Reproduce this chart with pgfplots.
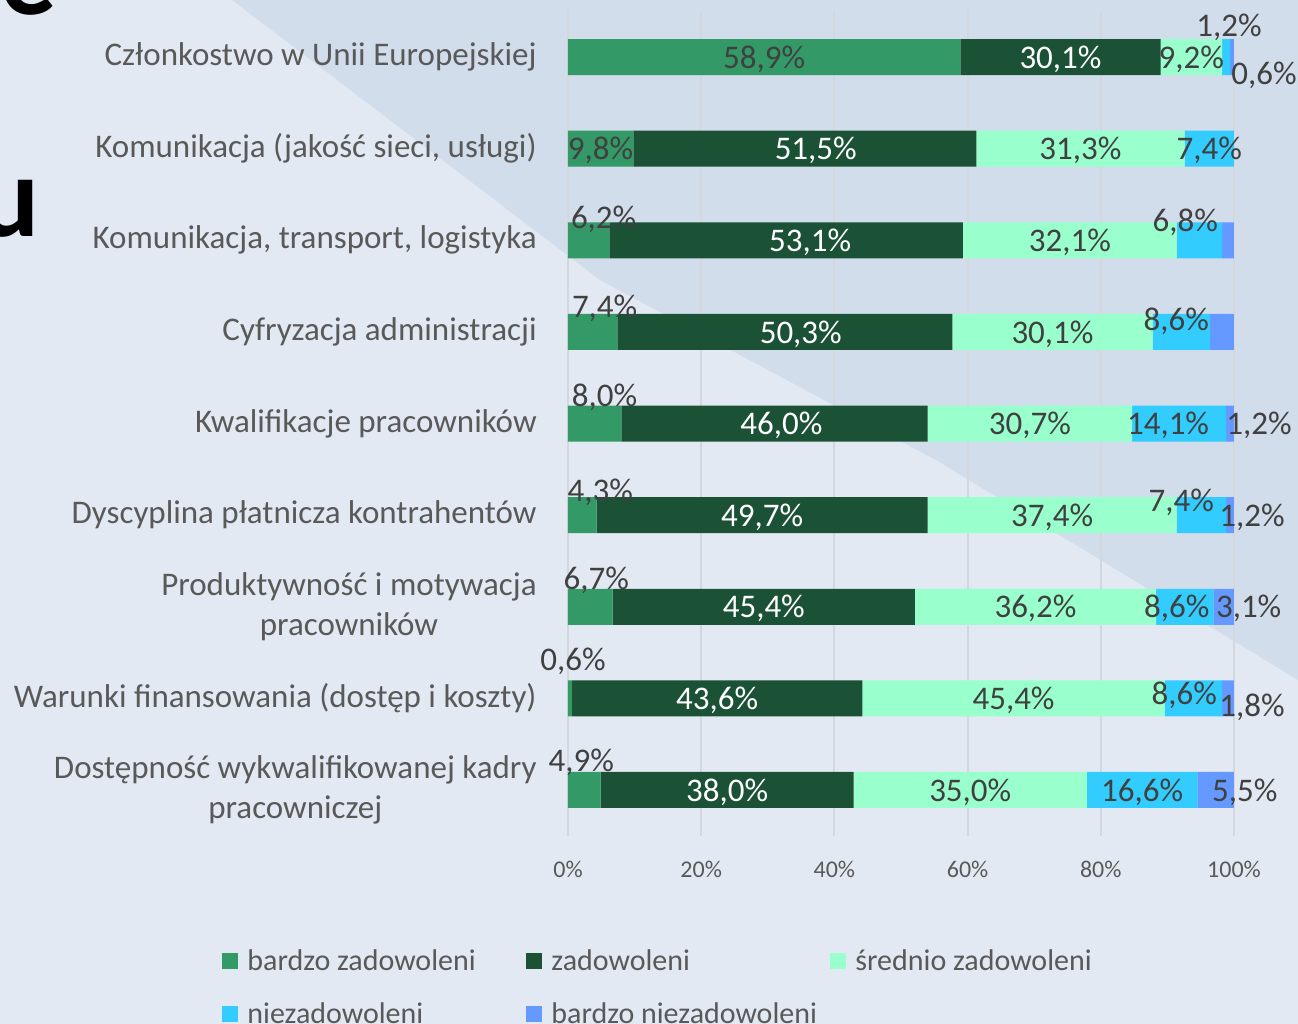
\documentclass[border=0pt]{standalone}
\usepackage{fontspec}
\setmainfont{Carlito}
\usepackage{pgfplots}
\pgfplotsset{compat=1.18}
\usepackage{pgfplotstable}
\definecolor{cA}{HTML}{339966}
\definecolor{cB}{HTML}{1B5236}
\definecolor{cC}{HTML}{99FFCC}
\definecolor{cD}{HTML}{33CCFF}
\definecolor{cE}{HTML}{6699FF}
\definecolor{labgray}{HTML}{595959}
\definecolor{valgray}{HTML}{404040}
\definecolor{bgA}{HTML}{E2E9F3}
\definecolor{bgB}{HTML}{D1DDEA}
\definecolor{gridc}{HTML}{D4D8DE}

\pgfplotstableread{
r v lab dx dy
0 58.9 58,9\% 0 0
1 9.8 9,8\% 0 0
2 6.2 6,2\% 15 23
3 7.4 7,4\% 12 26
4 8.0 8,0\% 10 28
5 4.3 4,3\% 18 25
6 6.7 6,7\% 6 28
7 0.6 0,6\% 3 39
8 4.9 4,9\% -3 30
}\sA
\pgfplotstableread{
r v lab dx dy
0 30.1 30,1\% 0 0
1 51.5 51,5\% 11 0
2 53.1 53,1\% 24 0
3 50.3 50,3\% 16 0
4 46.0 46,0\% 7 0
5 49.7 49,7\% 0 0
6 45.4 45,4\% 0 0
7 43.6 43,6\% 0 0
8 38.0 38,0\% 0 0
}\sB
\pgfplotstableread{
r v lab dx dy
0 9.2 9,2\% 0 0
1 31.3 31,3\% 0 0
2 32.1 32,1\% 0 0
3 30.1 30,1\% 0 0
4 30.7 30,7\% 0 0
5 37.4 37,4\% 0 0
6 36.2 36,2\% 0 0
7 45.4 45,4\% 0 0
8 35.0 35,0\% 0 0
}\sC
\pgfplotstableread{
r v lab dx dy
0 1.2 1,2\% 3 32
1 7.4 7,4\% 0 0
2 6.8 6,8\% -14 20
3 8.6 8,6\% -5 13
4 14.1 14,1\% -11 0
5 7.4 7,4\% -20 15
6 8.6 8,6\% -8 0
7 8.6 8,6\% -9 5
8 16.6 16,6\% 0 0
}\sD
\pgfplotstableread{
r v lab dx dy
0 0.6 0,6\% 32 -16
1 0.0 {} 0 0
2 1.9 1,9\% 24 0
3 3.7 3,7\% 30 0
4 1.2 1,2\% 29 0
5 1.2 1,2\% 22 0
6 3.1 3,1\% 25 0
7 1.8 1,8\% 24 -7
8 5.5 5,5\% 29 0
}\sE

\pgfplotsset{
  seg/.style={fill=#1, draw=none,
    legend image code/.code={\fill[#1] (0pt,-4pt) rectangle (8pt,4pt);}},
}

\begin{document}
\begin{tikzpicture}
\fill[bgA] (0,0) rectangle (649pt,-512pt);
\fill[bgB] (116pt,0) -- (300pt,-140pt) -- (468pt,-230pt) -- (649pt,-340pt) -- (649pt,0) -- cycle;
\useasboundingbox (0,0) rectangle (649pt,-512pt);
\begin{scope}
\clip (0,0) rectangle (649pt,-512pt);
\node[anchor=base east, inner sep=0pt, font=\fontsize{56}{60}\selectfont\bfseries] at (28.5pt,-7pt) {ce};
\node[anchor=base east, inner sep=0pt, font=\fontsize{58}{60}\selectfont\bfseries] at (20pt,-118pt) {u};
\end{scope}
\begin{axis}[
  at={(284pt,-5.6pt)}, anchor=north west,
  scale only axis, width=333pt, height=412.3pt,
  xbar stacked, bar width=18pt,
  xmin=0, xmax=100, ymin=-0.5, ymax=8.5, y dir=reverse,
  xtick={0,20,...,100},
  /pgf/number format/assume math mode=true,
  xticklabel={\pgfmathprintnumber{\tick}\%},
  xticklabel style={font=\fontsize{12}{14}\selectfont, text=labgray, yshift=-9pt},
  ytick={0,...,8},
  yticklabels={Członkostwo w Unii Europejskiej,
    {Komunikacja (jakość sieci, usługi)},
    {Komunikacja, transport, logistyka},
    Cyfryzacja administracji,
    Kwalifikacje pracowników,
    Dyscyplina płatnicza kontrahentów,
    Produktywność i motywacja\\pracowników,
    Warunki finansowania (dostęp i koszty),
    Dostępność wykwalifikowanej kadry\\pracowniczej},
  yticklabel style={align=center, font=\fontsize{16.5}{20}\selectfont, text=labgray, inner sep=0pt, xshift=-15.5pt},
  major tick length=0pt,
  axis line style={draw=none},
  xmajorgrids, grid style={gridc, line width=1pt},
  point meta=explicit symbolic,
  nodes near coords,
  nodes near coords align=center,
  visualization depends on={\thisrow{dx} \as \ddx},
  visualization depends on={\thisrow{dy} \as \ddy},
  every node near coord/.append style={font=\fontsize{16.5}{18}\selectfont, text=valgray, inner sep=0pt,
     xshift=\ddx*0.5pt, yshift=\ddy*0.5pt-1pt},
  legend columns=3,
  legend cell align=left,
  legend style={at={(-0.5195,-0.1372)}, anchor=north west, draw=none, fill=none,
    inner sep=0pt, font=\fontsize{15}{18}\selectfont, text=labgray,
    /tikz/every odd column/.style={column sep=4.5pt},
    /tikz/every even column/.style={column sep=9.5pt},
    /tikz/row sep=14.5pt, nodes={inner sep=0pt}},
]
\addplot[seg=cA] table[x=v, y=r, meta=lab] {\sA};
\addlegendentry{\makebox[130pt][l]{bardzo zadowoleni}}
\addplot[seg=cB, every node near coord/.append style={text=white}] table[x=v, y=r, meta=lab] {\sB};
\addlegendentry{\makebox[130pt][l]{zadowoleni}}
\addplot[seg=cC] table[x=v, y=r, meta=lab] {\sC};
\addlegendentry{\makebox[130pt][l]{średnio zadowoleni}}
\addplot[seg=cD] table[x=v, y=r, meta=lab] {\sD};
\addlegendentry{\makebox[130pt][l]{niezadowoleni}}
\addplot[seg=cE] table[x=v, y=r, meta=lab] {\sE};
\addlegendentry{\makebox[130pt][l]{bardzo niezadowoleni}}
\end{axis}
\end{tikzpicture}
\end{document}
